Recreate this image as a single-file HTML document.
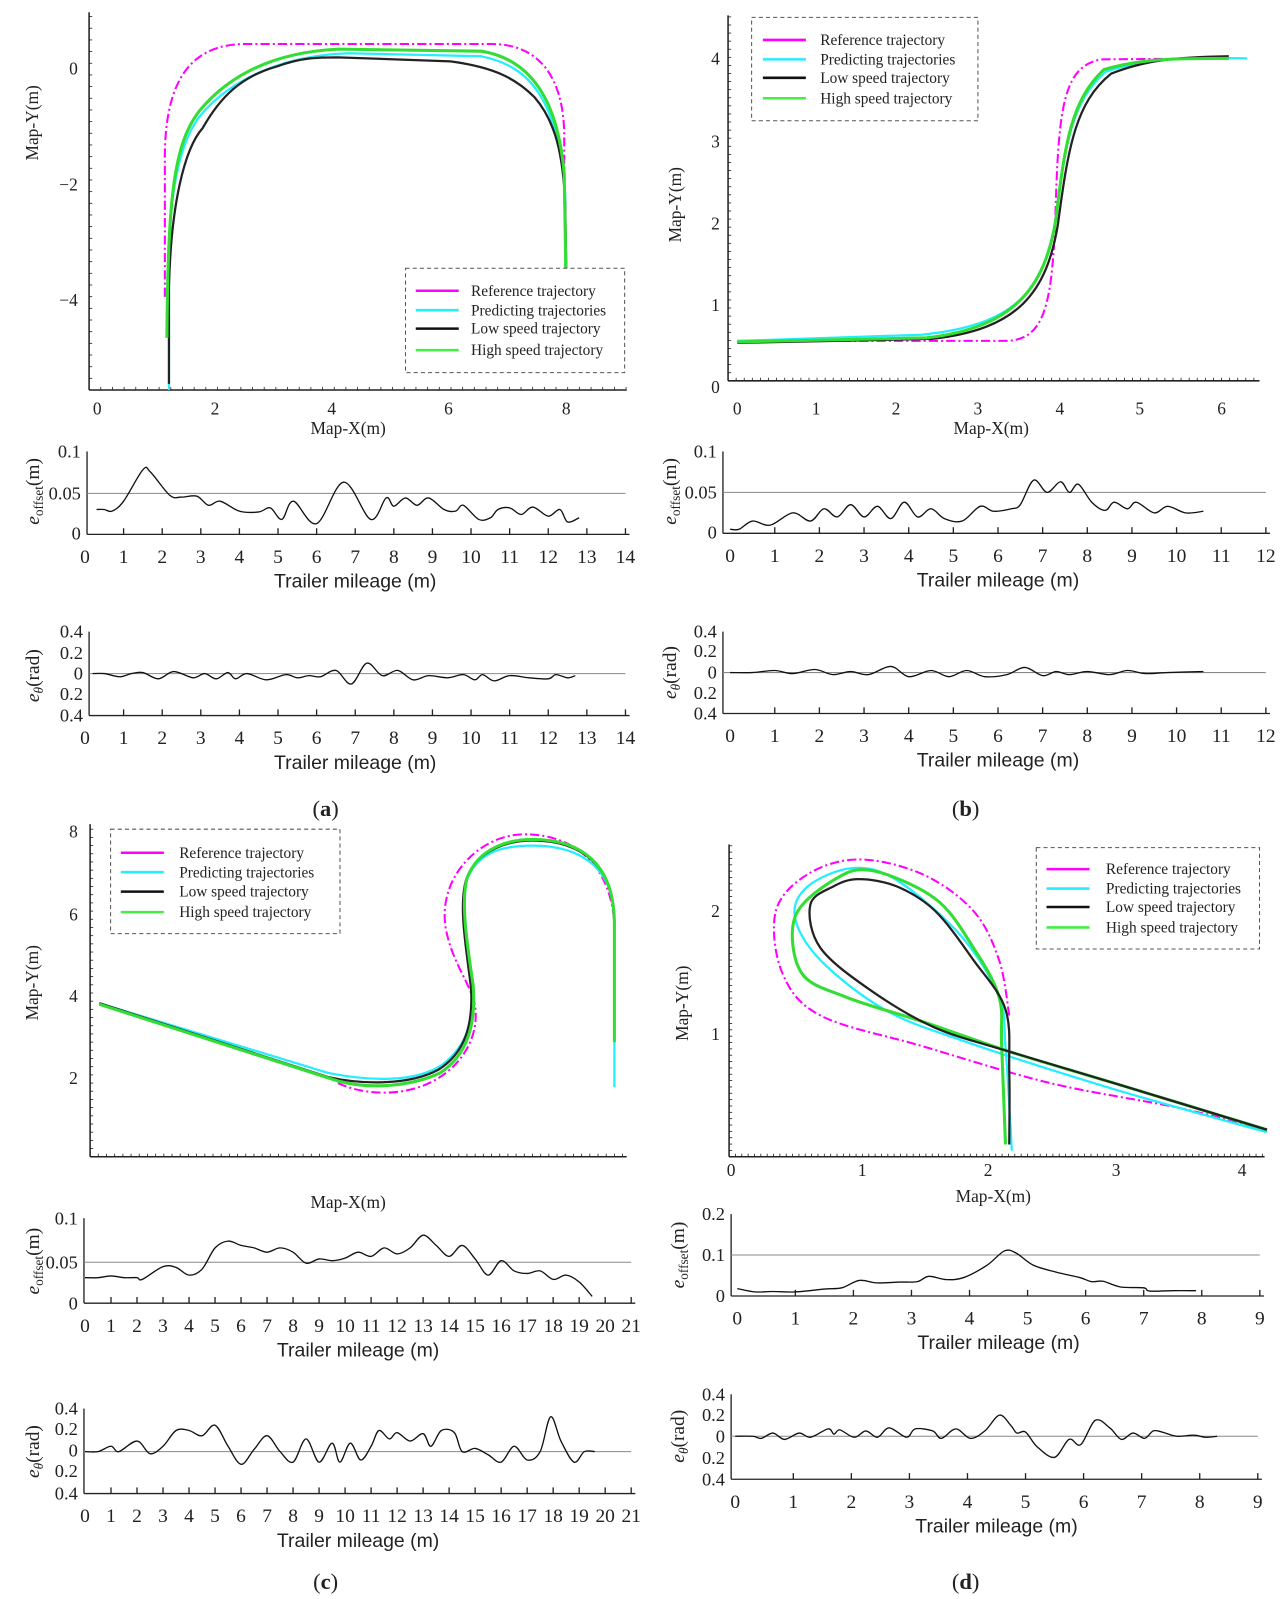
<!DOCTYPE html>
<html><head><meta charset="utf-8"><style>
html,body{margin:0;padding:0;background:#fff}
svg{display:block}
text{font-family:"Liberation Serif",serif;fill:#222}
.s{font-family:"Liberation Sans",sans-serif}
</style></head><body>
<svg id="g" width="1280" height="1599" viewBox="0 0 1250 1562" preserveAspectRatio="none" xmlns="http://www.w3.org/2000/svg"></svg>
<script>
var S=document.getElementById('g'),NS='http://www.w3.org/2000/svg',H='';
function cr(p){var d='M'+p[0][0].toFixed(1)+','+p[0][1].toFixed(1);for(var i=0;i<p.length-1;i++){var a=p[i-1]||p[i],b=p[i],c=p[i+1],e=p[i+2]||c;d+=' C'+(b[0]+(c[0]-a[0])/6).toFixed(1)+','+(b[1]+(c[1]-a[1])/6).toFixed(1)+' '+(c[0]-(e[0]-b[0])/6).toFixed(1)+','+(c[1]-(e[1]-b[1])/6).toFixed(1)+' '+c[0].toFixed(1)+','+c[1].toFixed(1);}return d;}
function path(d,st){H+='<path d="'+d+'" fill="none" '+st+'/>';}
function line(x1,y1,x2,y2,st){H+='<line x1="'+x1+'" y1="'+y1+'" x2="'+x2+'" y2="'+y2+'" '+(st||'stroke="#222" stroke-width="1.3"')+'/>';}
function txt(x,y,s,o){H+='<text x="'+x+'" y="'+y+'" '+(o||'')+'>'+s+'</text>';}
function flat(arr){var r=[];for(var i=0;i<arr.length;i+=2)r.push([arr[i],arr[i+1]]);return r;}
function err(o){
 var ax=o.ax,x0=o.x0,xs=o.xs,n=o.n;
 line(ax,o.top,ax,o.base);line(ax,o.base,x0+xs*n+4,o.base);
 for(var i=0;i<=n;i++){var x=x0+xs*i;if(i>0)line(x,o.base,x,o.base-6);txt(x,o.base+28,i,'font-size="19" text-anchor="middle"');}
 for(var j=0;j<o.yl.length;j++)txt(ax-6,o.yl[j][1]+6,o.yl[j][0],'font-size="18" text-anchor="end"');
 line(ax,o.ref,x0+xs*n,o.ref,'stroke="#888" stroke-width="1"');
 txt(x0+xs*n/2,o.base+52,'Trailer mileage (m)','class="s" font-size="19" text-anchor="middle"');
 var p=flat(o.d).map(function(q){return [x0+xs*q[0],o.vy(q[1])];});
 path(cr(p),'stroke="#111" stroke-width="1.3"');
 H+=o.lab;
}
var eoff=function(x,y){return '<text transform="translate('+x+','+y+') rotate(-90)" font-size="19" text-anchor="middle"><tspan font-style="italic">e</tspan><tspan font-size="13" dy="4">offset</tspan><tspan dy="-4">(m)</tspan></text>';};
var eth=function(x,y){return '<text transform="translate('+x+','+y+') rotate(-90)" font-size="19" text-anchor="middle"><tspan font-style="italic">e</tspan><tspan font-size="13" font-style="italic" dy="4">θ</tspan><tspan dy="-4">(rad)</tspan></text>';};
err({ax:85,top:441,base:522,x0:83,xs:37.7,n:14,ref:482,yl:[['0.1',441],['0.05',482],['0',521]],vy:function(v){return 522-v*810;},
 d:[0.3,0.03,0.5,0.03,0.7,0.028,1,0.04,1.5,0.078,1.7,0.075,2.2,0.047,2.5,0.045,2.9,0.046,3.2,0.035,3.5,0.04,4,0.028,4.5,0.027,4.8,0.032,5.1,0.018,5.4,0.04,6,0.013,6.7,0.063,7.4,0.018,7.8,0.044,8,0.034,8.3,0.044,8.6,0.035,8.9,0.044,9.3,0.03,9.6,0.028,9.8,0.035,10.2,0.018,10.5,0.02,10.7,0.03,11,0.032,11.3,0.024,11.6,0.033,12,0.022,12.3,0.03,12.5,0.015,12.8,0.02],lab:eoff(38,480)});
err({ax:87,top:617,base:699,x0:83,xs:37.7,n:14,ref:658,yl:[['0.4',617],['0.2',638],['0',658],['0.2',678],['0.4',699]],vy:function(v){return 658-v*102;},
 d:[0.2,0,0.5,0,0.9,-0.03,1.2,0,1.5,0.01,1.9,-0.05,2.3,0.02,2.8,-0.04,3.1,0,3.4,-0.05,3.7,0.01,3.9,-0.05,4.2,0,4.7,-0.06,5.2,-0.01,5.5,-0.04,5.8,-0.02,6.1,-0.03,6.5,0.03,6.9,-0.1,7.3,0.1,7.7,-0.02,8.1,0.03,8.5,-0.06,8.9,-0.02,9.4,-0.04,9.8,-0.01,10.1,-0.06,10.3,-0.01,10.6,-0.07,11,-0.02,11.5,-0.04,12,-0.05,12.2,-0.01,12.5,-0.04,12.7,-0.02],lab:eth(38,660)});
err({ax:706,top:441,base:521,x0:713,xs:43.6,n:12,ref:481,yl:[['0.1',441],['0.05',481],['0',520]],vy:function(v){return 521-v*800;},
 d:[0,0.005,0.2,0.005,0.5,0.015,0.9,0.01,1.4,0.025,1.8,0.015,2.1,0.03,2.4,0.02,2.7,0.035,3,0.02,3.3,0.033,3.6,0.018,3.9,0.038,4.2,0.02,4.5,0.03,4.8,0.018,5.2,0.015,5.6,0.033,5.9,0.027,6.3,0.03,6.5,0.035,6.8,0.065,7.1,0.05,7.4,0.063,7.6,0.05,7.8,0.06,8.1,0.038,8.4,0.028,8.6,0.038,8.9,0.03,9.1,0.038,9.5,0.025,9.8,0.033,10.2,0.025,10.6,0.027],lab:eoff(660,480)});
err({ax:706,top:617,base:697,x0:713,xs:43.6,n:12,ref:657,yl:[['0.4',617],['0.2',636],['0',657],['0.2',677],['0.4',697]],vy:function(v){return 657-v*100;},
 d:[0,0,0.5,0,1,0.02,1.4,-0.01,1.9,0.03,2.3,-0.02,2.7,0.01,3.1,-0.02,3.6,0.06,4,-0.04,4.5,0.02,4.9,-0.04,5.3,0.02,5.7,-0.04,6.2,-0.02,6.6,0.05,7,-0.03,7.3,0.01,7.6,-0.02,8,0.01,8.5,-0.02,8.9,0.02,9.3,-0.01,9.8,0,10.6,0.01],lab:eth(660,657)});
err({ax:82,top:1190,base:1273,x0:83,xs:25.4,n:21,ref:1233,yl:[['0.1',1190],['0.05',1233],['0',1273]],vy:function(v){return 1273-v*830;},
 d:[0,0.03,0.5,0.03,1,0.032,1.5,0.03,2,0.03,2.2,0.028,3,0.043,3.5,0.042,4,0.033,4.5,0.04,5,0.065,5.5,0.073,6,0.068,6.5,0.065,7,0.06,7.5,0.065,8,0.06,8.5,0.047,9,0.052,9.5,0.05,10,0.053,10.5,0.06,11,0.055,11.5,0.065,12,0.058,12.5,0.065,13,0.08,13.5,0.068,14,0.055,14.5,0.068,15,0.052,15.5,0.033,16,0.05,16.5,0.038,17,0.035,17.5,0.038,18,0.028,18.5,0.033,19,0.025,19.5,0.008],lab:eoff(38,1232)});
err({ax:82,top:1376,base:1459,x0:83,xs:25.4,n:21,ref:1418,yl:[['0.4',1376],['0.2',1396],['0',1417],['0.2',1437],['0.4',1459]],vy:function(v){return 1418-v*103;},
 d:[0,0,0.5,0,1,0.05,1.3,0,2,0.1,2.5,-0.02,3,0.05,3.5,0.2,4,0.2,4.5,0.15,5,0.25,5.5,0.05,6,-0.12,6.5,0.02,7,0.15,7.5,0,8,-0.1,8.5,0.12,9,-0.1,9.5,0.08,9.8,-0.1,10.2,0.08,10.6,-0.08,11,0.05,11.3,0.2,11.7,0.12,12,0.18,12.5,0.1,13,0.17,13.3,0.05,13.7,0.2,14.2,0.18,14.5,0,15,0.03,15.5,-0.03,16,-0.1,16.5,0.05,17,-0.08,17.5,0,17.9,0.33,18.3,0.1,18.8,-0.1,19.2,0,19.6,0],lab:eth(38,1418)});
err({ax:714,top:1186,base:1266,x0:720,xs:56.7,n:9,ref:1226,yl:[['0.2',1186],['0.1',1226],['0',1266]],vy:function(v){return 1266-v*400;},
 d:[0,0.018,0.3,0.01,0.6,0.011,1,0.01,1.5,0.017,1.8,0.02,2.1,0.038,2.4,0.032,2.8,0.034,3.1,0.035,3.3,0.048,3.6,0.04,3.9,0.045,4.3,0.075,4.6,0.11,4.8,0.105,5.1,0.075,5.5,0.058,5.9,0.045,6.1,0.035,6.3,0.036,6.6,0.022,7,0.02,7.1,0.012,7.5,0.013,7.9,0.013],lab:eoff(668,1226)});
err({ax:714,top:1362,base:1445,x0:718,xs:56.7,n:9,ref:1403,yl:[['0.4',1362],['0.2',1382],['0',1403],['0.2',1424],['0.4',1445]],vy:function(v){return 1403-v*103;},
 d:[0,0,0.3,0,0.45,-0.02,0.65,0.03,0.85,-0.03,1.1,0.03,1.3,-0.01,1.6,0.07,1.7,0.02,1.8,0.06,2.05,-0.01,2.25,0.05,2.45,-0.01,2.65,0.08,2.95,-0.01,3.1,0.07,3.4,0.05,3.55,-0.02,3.8,0.07,4.05,-0.02,4.3,0.05,4.55,0.2,4.75,0.1,4.85,0.03,5.0,0.04,5.2,-0.1,5.5,-0.2,5.75,-0.03,5.95,-0.08,6.2,0.15,6.45,0.08,6.65,-0.03,6.85,0.03,7.05,-0.02,7.2,0.05,7.35,0.04,7.6,0.0,7.9,0.01,8.1,-0.01,8.3,0],lab:eth(668,1403)});
txt(318,797,'(<tspan font-weight="bold">a</tspan>)','font-size="22" text-anchor="middle"');
txt(943,797,'(<tspan font-weight="bold">b</tspan>)','font-size="22" text-anchor="middle"');
txt(318,1552,'(<tspan font-weight="bold">c</tspan>)','font-size="22" text-anchor="middle"');
txt(943,1552,'(<tspan font-weight="bold">d</tspan>)','font-size="22" text-anchor="middle"');
var REF='stroke="#f0f" stroke-width="2" stroke-dasharray="9,3,2,3"',CY='stroke="#2ef" stroke-width="2.2"',BK='stroke="#222" stroke-width="2.2"',GR='stroke="#3d3" stroke-width="3"';
function legend(x,y,w,h,ys,lx,tx){
 H+='<rect x="'+x+'" y="'+y+'" width="'+w+'" height="'+h+'" fill="#fff" stroke="#555" stroke-width="1" stroke-dasharray="4,3"/>';
 var names=['Reference trajectory','Predicting trajectories','Low speed trajectory','High speed trajectory'],cols=['#f0f','#2ef','#111','#4e4'];
 for(var i=0;i<4;i++){line(lx,ys[i],lx+42,ys[i],'stroke="'+cols[i]+'" stroke-width="2.5"');txt(tx,ys[i]+5,names[i],'font-size="15"');}
}
function axes(ax,top,base,right,minor){line(ax,top,ax,base,'stroke="#222" stroke-width="1.5"');line(ax,base,right,base,'stroke="#222" stroke-width="1.5"');
 for(var x=ax;x<=right;x+=minor)line(x,base,x,base-3,'stroke="#222" stroke-width="0.8"');
 for(var y=base;y>=top;y-=minor)line(ax,y,ax+3,y,'stroke="#222" stroke-width="0.8"');}
function rotl(x,y,s){H+='<text transform="translate('+x+','+y+') rotate(-90)" font-size="17" text-anchor="middle">'+s+'</text>';}
axes(87,12,381,612,11.4);
[[0,95],[2,210],[4,324],[6,438],[8,553]].forEach(function(t){txt(t[1],405,t[0],'font-size="17" text-anchor="middle"');});
txt(76,73,'0','font-size="17" text-anchor="end"');txt(76,186,'−2','font-size="17" text-anchor="end"');txt(76,299,'−4','font-size="17" text-anchor="end"');
rotl(37,120,'Map-Y(m)');txt(340,424,'Map-X(m)','font-size="17" text-anchor="middle"');
path('M161,290 L161,150 C162,80 185,43 240,43 L480,43 C530,43 550,80 551,130 L551,200',REF);
path('M165,381 L165,250 C166,180 178,130 200,108 C230,75 280,54 340,52 L470,55 C520,65 545,100 552,190 L552,280',CY);
path('M165,375 L165,280 C167,200 180,145 198,125 C215,95 235,75 270,65 C295,56 310,56 330,56 L440,60 C485,66 505,78 522,95 C542,118 550,150 552,200 L553,265',BK);
path('M163,330 C164,190 170,140 195,108 C225,72 270,51 330,48 L470,50 C520,58 545,100 551,170 L553,290',GR);
legend(396,262,214,102,[284,303,321,342],406,460);
axes(711,15,372,1230,7.9);
[[0,720],[1,797],[2,875],[3,955],[4,1035],[5,1113],[6,1193]].forEach(function(t){txt(t[1],405,t[0],'font-size="17" text-anchor="middle"');});
[[0,378],[1,298],[2,218],[3,138],[4,57]].forEach(function(t){txt(703,t[1]+6,t[0],'font-size="17" text-anchor="end"');});
rotl(665,200,'Map-Y(m)');txt(968,424,'Map-X(m)','font-size="17" text-anchor="middle"');
path('M720,333 L985,333 C1020,330 1028,300 1031,200 C1034,100 1040,65 1075,58 L1200,57',REF);
path('M720,333 L900,327 C990,318 1018,285 1030,220 C1040,145 1045,100 1080,70 C1120,57 1150,56 1218,57',CY);
path('M720,335 L910,331 C995,322 1022,285 1033,220 C1043,145 1050,100 1085,72 C1120,58 1150,56 1200,55',BK);
path('M720,334 L905,330 C990,320 1020,282 1031,215 C1040,140 1046,98 1078,68 C1115,57 1150,57 1200,57',GR);
legend(734,17,221,101,[39,58,76,96],745,801);
axes(88,805,1130,612,8);
[[8,812],[6,893],[4,973],[2,1053]].forEach(function(t){txt(76,t[1]+6,t[0],'font-size="17" text-anchor="end"');});
rotl(37,960,'Map-Y(m)');txt(340,1180,'Map-X(m)','font-size="17" text-anchor="middle"');
path('M330,1058 C355,1070 395,1072 425,1055 C460,1035 470,1000 462,975 C455,955 440,935 435,905 C428,855 470,815 512,815 C565,815 600,850 600,910',REF);
path('M97,980 L320,1048 C360,1056 405,1058 432,1040 C458,1020 462,995 461,965 C458,930 450,890 455,862 C466,830 495,826 520,826 C570,826 600,850 600,900 L600,1062',CY);
path('M97,980 L320,1052 C355,1060 400,1060 428,1045 C455,1028 462,1000 460,965 C455,925 448,885 455,860 C466,828 500,821 520,821 C570,821 600,848 600,900 L600,1012',BK);
path('M97,981 L330,1056 C360,1064 400,1062 430,1048 C457,1030 465,1000 462,962 C456,922 450,882 456,858 C468,826 500,820 520,820 C570,820 599,846 600,900 L600,1018',GR);
legend(108,810,224,102,[833,852,871,891],118,175);
axes(712,825,1130,1235,6.2);
[[0,714],[1,842],[2,965],[3,1090],[4,1213]].forEach(function(t){txt(t[1],1149,t[0],'font-size="17" text-anchor="middle"');});
txt(703,1016,'1','font-size="17" text-anchor="end"');txt(703,896,'2','font-size="17" text-anchor="end"');
rotl(672,980,'Map-Y(m)');txt(970,1174,'Map-X(m)','font-size="17" text-anchor="middle"');
function dp(a){return flat(a).map(function(q){return [714+124.6*q[0],1130-120*q[1]];});}
path(cr(dp([2.18,1.15,2.1,1.6,1.9,2.0,1.5,2.3,1.0,2.42,0.6,2.3,0.35,2.0,0.4,1.5,0.7,1.15,1.5,0.9,2.5,0.6,3.5,0.4,4.2,0.22])),REF);
path(cr(dp([2.2,0.05,2.15,0.9,2.1,1.3,1.8,1.8,1.3,2.25,0.95,2.35,0.6,2.2,0.5,1.95,0.7,1.6,1.2,1.2,1.8,0.95,3,0.55,4.2,0.2])),CY);
path(cr(dp([2.15,0.1,2.12,0.9,2.1,1.3,1.9,1.7,1.6,2.1,1.1,2.33,0.8,2.25,0.5,1.95,0.55,1.5,0.9,1.3,1.5,1.1,2.2,0.85,3,0.6,4.2,0.22])),GR);
path(cr(dp([2.18,0.1,2.18,0.7,2.15,1.2,1.9,1.6,1.6,2.0,1.3,2.2,1.0,2.26,0.8,2.2,0.62,2.05,0.7,1.7,1.1,1.35,1.6,1.05,2.2,0.85,3,0.6,4.2,0.22])),BK);
legend(1012,828,218,99,[849,868,886,906],1022,1080);
S.innerHTML=H;
</script>
</body></html>
